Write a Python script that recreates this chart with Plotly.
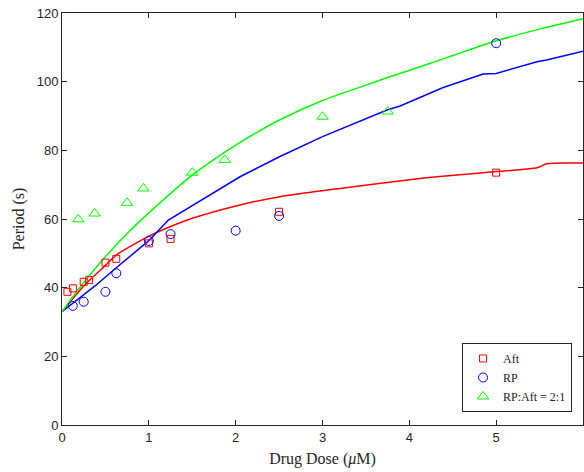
import plotly.graph_objects as go

# --- measured data ---
aft_x = [0.0625, 0.125, 0.25, 0.3125, 0.5, 0.625, 1.0, 1.25, 2.5, 5.0]
aft_y = [38.8, 39.8, 41.7, 42.2, 47.3, 48.4, 52.9, 54.2, 62.1, 73.5]

rp_x = [0.125, 0.25, 0.5, 0.625, 1.0, 1.25, 2.0, 2.5, 5.0]
rp_y = [34.7, 35.9, 38.8, 44.2, 53.6, 55.6, 56.6, 60.9, 111.2]

mix_x = [0.1875, 0.375, 0.75, 0.9375, 1.5, 1.875, 3.0, 3.75]
mix_y = [59.9, 61.6, 64.7, 68.9, 73.5, 77.2, 89.8, 91.3]

# fitted curves
aft_fit_x = [0, 0.25, 0.5, 0.625, 1.0, 1.11, 1.5, 2.05, 2.51, 3.2, 4.12, 4.35, 4.82, 5.0, 5.47, 5.58, 6.0]
aft_fit_y = [33, 40.5, 46.5, 49.5, 55.0, 56.3, 60.2, 64.1, 66.5, 68.9, 71.8, 72.4, 73.4, 73.8, 74.9, 76.1, 76.3]

rp_fit_x = [0, 0.38, 0.625, 1.0, 1.225, 2.05, 2.51, 3.0, 3.75, 3.894, 4.39, 4.82, 4.85, 5.0, 5.47, 5.58, 6.0]
rp_fit_y = [33, 40.5, 45.8, 53.7, 59.7, 72.3, 78.2, 84.0, 91.8, 92.9, 98.3, 101.9, 102.2, 102.4, 105.8, 106.3, 108.9]

mix_fit_x = [0, 0.25, 0.5, 0.75, 1.0, 1.5, 1.875, 2.0, 2.25, 2.51, 3.0, 3.5, 3.75, 4.2, 4.5, 5.0, 5.5, 6.0]
mix_fit_y = [33, 41.5, 49.0, 55.8, 61.8, 72.8, 79.5, 81.5, 85.3, 88.9, 94.5, 99.0, 101.2, 105.0, 107.6, 111.9, 115.3, 118.3]

x_ticks = [0, 1, 2, 3, 4, 5, 6]
y_ticks = [0, 20, 40, 60, 80, 100, 120]

RED, BLUE, GREEN = "#FF0000", "#0000FF", "#00FF00"
SERIF = "'Liberation Serif', 'Times New Roman', serif"
SANS = "'Liberation Sans', Arial, sans-serif"

fig = go.Figure()
fig.add_trace(go.Scatter(x=aft_fit_x, y=aft_fit_y, mode="lines", line=dict(color=RED, width=1.5, shape="spline", smoothing=0.6),
                         showlegend=False, hoverinfo="skip"))
fig.add_trace(go.Scatter(x=rp_fit_x, y=rp_fit_y, mode="lines", line=dict(color=BLUE, width=1.5),
                         showlegend=False, hoverinfo="skip"))
fig.add_trace(go.Scatter(x=mix_fit_x, y=mix_fit_y, mode="lines", line=dict(color=GREEN, width=1.5, shape="spline", smoothing=0.8),
                         showlegend=False, hoverinfo="skip"))

fig.add_trace(go.Scatter(x=aft_x, y=aft_y, mode="markers", name="Aft",
                         marker=dict(symbol="square-open", size=7, color=RED, line=dict(width=1, color=RED))))
fig.add_trace(go.Scatter(x=rp_x, y=rp_y, mode="markers", name="RP",
                         marker=dict(symbol="circle-open", size=9, color=BLUE, line=dict(width=1, color=BLUE))))
fig.add_trace(go.Scatter(x=mix_x, y=mix_y, mode="markers", name="RP:Aft = 2:1",
                         marker=dict(symbol="triangle-up-open", size=10, color=GREEN, line=dict(width=1, color=GREEN))))

axis_common = dict(showgrid=False, zeroline=False, showline=True, linecolor="#262626", linewidth=1,
                   mirror="allticks", ticks="inside", ticklen=5, tickcolor="#262626",
                   tickfont=dict(family=SANS, size=13, color="#262626"))

fig.update_layout(
    width=584, height=472,
    margin=dict(l=62, r=1, t=13, b=47),
    plot_bgcolor="white", paper_bgcolor="white",
    xaxis=dict(range=[0, 6], tickvals=x_ticks,
               title=dict(text="Drug Dose (<i>μ</i>M)", standoff=9,
                          font=dict(family=SERIF, size=16, color="#262626")),
               **axis_common),
    yaxis=dict(range=[0, 120], tickvals=y_ticks,
               title=dict(text="Period (s)", standoff=8,
                          font=dict(family=SERIF, size=16, color="#262626")),
               **axis_common),
    legend=dict(x=0.979, y=0.0316, xanchor="right", yanchor="bottom",
                bgcolor="white", bordercolor="#262626", borderwidth=1,
                font=dict(family=SERIF, size=12, color="#262626"),
                tracegroupgap=0, itemwidth=30),
)

fig.write_html("out.html")
